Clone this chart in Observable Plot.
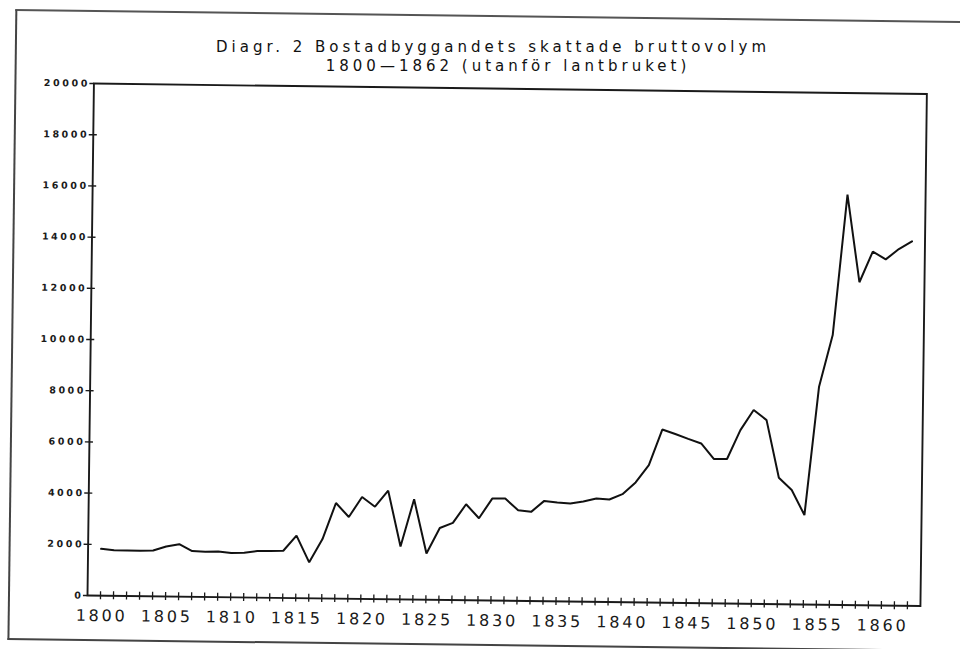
<!DOCTYPE html>
<html>
<head>
<meta charset="utf-8">
<script src="https://cdn.jsdelivr.net/npm/d3@7"></script>
<script src="https://cdn.jsdelivr.net/npm/@observablehq/plot@0.6"></script>
<style>
  html, body { margin: 0; padding: 0; background: #fff; overflow: hidden; }
  #wrap { position: relative; width: 960px; height: 649px; }
  #page {
    position: absolute; left: 0; top: 0; width: 960px; height: 649px;
    transform: rotate(0.72deg); transform-origin: 87px 595px;
    font-family: "DejaVu Sans", sans-serif; color: #1a1a1a;
  }
  #border {
    position: absolute; left: 8px; top: 10px; width: 1000px; height: 627px;
    border-left: 2px solid #444; border-top: 2px solid #555; border-bottom: 2px solid #444;
    pointer-events: none;
  }
  #spacer { height: 75px; }
  #title { position: absolute; left: 0; top: 0; width: 960px; height: 80px; font-family: "DejaVu Sans", sans-serif; color: #111; }
  #title .line {
    position: absolute; display: inline-block; transform: translateX(-50%);
    font-size: 15px; line-height: 12px; letter-spacing: 4px; white-space: nowrap;
  }
  #chart svg { display: block; }
  #chart g[aria-label="x-axis tick label"] text { letter-spacing: 2.8px; }
  #chart g[aria-label="y-axis tick label"] text { letter-spacing: 2.6px; }
</style>
</head>
<body>
<div id="wrap">
  <div id="page">
    <div id="border"></div>
    <div id="spacer"></div>
    <div id="chart"></div>
  </div>
  <div id="title"></div>
</div>
<script>
const titleLines = [
  "Diagr. 2  Bostadbyggandets skattade bruttovolym",
  "1800—1862 (utanför lantbruket)"
];

const years = [
  1800,1801,1802,1803,1804,1805,1806,1807,1808,1809,
  1810,1811,1812,1813,1814,1815,1816,1817,1818,1819,
  1820,1821,1822,1823,1824,1825,1826,1827,1828,1829,
  1830,1831,1832,1833,1834,1835,1836,1837,1838,1839,
  1840,1841,1842,1843,1844,1845,1846,1847,1848,1849,
  1850,1851,1852,1853,1854,1855,1856,1857,1858,1859,
  1860,1861,1862
];

const volume = [
  1830,1785,1780,1770,1790,1955,2050,1785,1765,1785,
  1730,1750,1820,1825,1845,2440,1405,2320,3735,3195,
  3980,3610,4245,2065,3920,1805,2810,3015,3750,3210,
  3985,3990,3545,3485,3920,3865,3830,3915,4040,4005,
  4220,4685,5370,6765,6595,6415,6240,5635,5645,6780,
  7570,7185,4940,4465,3495,8515,10540,16030,12615,13820,
  13520,13930,14240
];

const xTickLabels = [1800,1805,1810,1815,1820,1825,1830,1835,1840,1845,1850,1855,1860];
const yTickLabels = [0,2000,4000,6000,8000,10000,12000,14000,16000,18000,20000];

// title
const titleBox = document.getElementById("title");
const titlePos = [{cx: 493, top: 41.2}, {cx: 508, top: 60.3}];
titleLines.forEach((t, i) => {
  const d = document.createElement("div");
  d.className = "line";
  d.textContent = t;
  d.style.left = titlePos[i].cx + "px";
  d.style.top = titlePos[i].top + "px";
  titleBox.appendChild(d);
});

const data = years.map((y, i) => ({year: y, value: volume[i]}));
const x0 = 1799, tickHalfX = 0.31, tickHalfY = 156;

const chart = Plot.plot({
  width: 960,
  height: 574,
  marginTop: 8,
  marginBottom: 54,
  marginLeft: 87,
  marginRight: 40,
  style: {fontFamily: "DejaVu Sans, sans-serif", background: "transparent", overflow: "visible", color: "#1a1a1a"},
  x: {domain: [1799, 1863]},
  y: {domain: [0, 20000]},
  marks: [
    Plot.frame({stroke: "#1a1a1a", strokeWidth: 1.9}),
    Plot.ruleX(years, {x: d => d, y1: -tickHalfY, y2: tickHalfY, stroke: "#1a1a1a", strokeWidth: 1.3}),
    Plot.ruleY(yTickLabels, {y: d => d, x1: () => x0 - tickHalfX, x2: d => (d === 0 || d === 20000) ? x0 : x0 + tickHalfX, stroke: "#1a1a1a", strokeWidth: 1.4}),
    Plot.axisX({ticks: xTickLabels, tickSize: 0, tickPadding: 14, fontSize: 16, dx: 1.4, label: null, tickFormat: d => String(d), fill: "#1a1a1a"}),
    Plot.axisY({ticks: yTickLabels, tickSize: 0, tickPadding: 4, fontSize: 9.5, fontWeight: "bold", label: null, tickFormat: d => String(d), fill: "#1a1a1a"}),
    Plot.line(data, {x: "year", y: "value", stroke: "#111", strokeWidth: 2, strokeLinejoin: "miter"})
  ]
});
document.getElementById("chart").appendChild(chart);
</script>
</body>
</html>
